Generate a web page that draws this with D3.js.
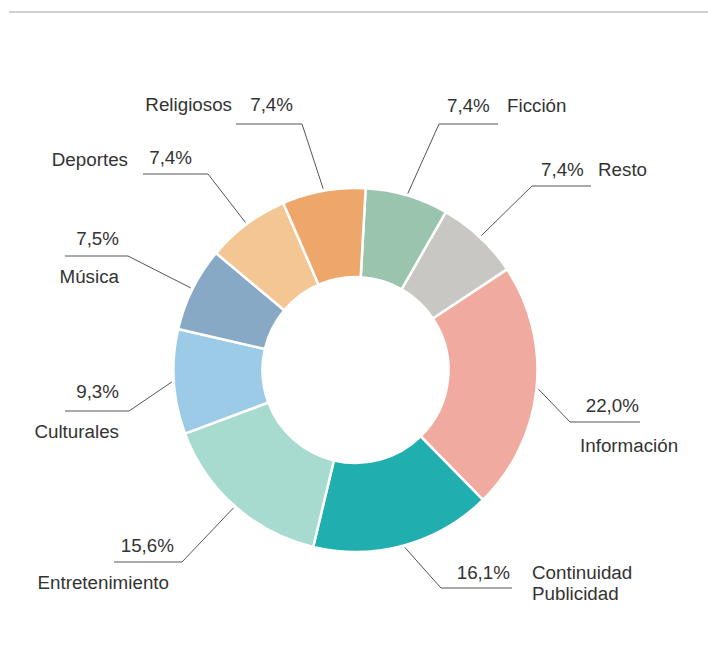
<!DOCTYPE html>
<html>
<head>
<meta charset="utf-8">
<script src="https://cdn.jsdelivr.net/npm/d3@7"></script>
<style>
  html, body { margin: 0; padding: 0; background: #fff; }
  svg { display: block; }
  text { font-family: "Liberation Sans", Arial, Helvetica, sans-serif; fill: #333; }
</style>
</head>
<body>
<svg id="chart" width="708" height="660"></svg>
<script>
// Share by programme type (%), clockwise from the top
const categories = ["Ficción", "Resto", "Información", "Continuidad Publicidad",
  "Entretenimiento", "Culturales", "Música", "Deportes", "Religiosos"];
const shares = [7.4, 7.4, 22.0, 16.1, 15.6, 9.3, 7.5, 7.4, 7.4];
const valueLabels = ["7,4%", "7,4%", "22,0%", "16,1%", "15,6%", "9,3%", "7,5%", "7,4%", "7,4%"];
const colors = ["#9bc4af", "#c8c7c3", "#f0aa9f", "#20aeae", "#a7dbcf",
  "#9bcbe6", "#87a9c6", "#f3c693", "#eda76b"];

// Leader-line elbows and label placement
const labelLayout = [
  { elbow: [439, 124], end: 498, value: { x: 447, y: 112, anchor: "start" }, name: [{ x: 507, y: 112, anchor: "start" }] },
  { elbow: [532, 186], end: 591, value: { x: 541, y: 176, anchor: "start" }, name: [{ x: 598, y: 176, anchor: "start" }] },
  { elbow: [570, 422], end: 640, value: { x: 639, y: 412, anchor: "end" }, name: [{ x: 580, y: 452, anchor: "start" }] },
  { elbow: [441, 588], end: 512, value: { x: 510, y: 579, anchor: "end" }, name: [{ x: 532, y: 579, anchor: "start" }, { x: 532, y: 600, anchor: "start" }] },
  { elbow: [182, 562], end: 114, value: { x: 174, y: 552, anchor: "end" }, name: [{ x: 169, y: 589, anchor: "end" }] },
  { elbow: [129, 411], end: 65, value: { x: 119, y: 398, anchor: "end" }, name: [{ x: 119, y: 438, anchor: "end" }] },
  { elbow: [128, 256], end: 65, value: { x: 119, y: 245, anchor: "end" }, name: [{ x: 119, y: 283, anchor: "end" }] },
  { elbow: [208, 174], end: 143, value: { x: 192, y: 164, anchor: "end" }, name: [{ x: 128, y: 166, anchor: "end" }] },
  { elbow: [302, 124], end: 236, value: { x: 293, y: 111, anchor: "end" }, name: [{ x: 232, y: 111, anchor: "end" }] }
];

const svg = d3.select("#chart");
const cx = 355.5, cy = 370, outerR = 182, innerR = 93;

// Top rule
svg.append("line")
  .attr("x1", 9).attr("x2", 708).attr("y1", 12).attr("y2", 12)
  .attr("stroke", "#c0c0c0").attr("stroke-width", 1.6);

const startAngle = 3.2 * Math.PI / 180;
const pie = d3.pie().sort(null).value(d => d)
  .startAngle(startAngle).endAngle(startAngle + 2 * Math.PI);
const arcs = pie(shares);

const arc = d3.arc().innerRadius(innerR).outerRadius(outerR);
const g = svg.append("g").attr("transform", `translate(${cx},${cy})`);

g.selectAll("path.slice")
  .data(arcs)
  .join("path")
  .attr("class", "slice")
  .attr("d", arc)
  .attr("fill", (d, i) => colors[i])
  .attr("stroke", "#fff")
  .attr("stroke-width", 2.5)
  .attr("stroke-linejoin", "miter");

// Leader lines: from the slice's outer edge at its mid angle, to the elbow, then horizontal
const leaderR = outerR + 2;
svg.append("g").selectAll("polyline")
  .data(arcs)
  .join("polyline")
  .attr("fill", "none")
  .attr("stroke", "#555")
  .attr("stroke-width", 1)
  .attr("points", (d, i) => {
    const a = (d.startAngle + d.endAngle) / 2;
    const x0 = cx + leaderR * Math.sin(a);
    const y0 = cy - leaderR * Math.cos(a);
    const L = labelLayout[i];
    return [[x0, y0], L.elbow, [L.end, L.elbow[1]]].map(p => p.join(",")).join(" ");
  });

// Labels
const labels = svg.append("g").style("font-size", "18.8px");
arcs.forEach((d, i) => {
  const L = labelLayout[i];
  labels.append("text")
    .attr("x", L.value.x).attr("y", L.value.y)
    .attr("text-anchor", L.value.anchor)
    .text(valueLabels[i]);
  const parts = categories[i] === "Continuidad Publicidad" ? ["Continuidad", "Publicidad"] : [categories[i]];
  parts.forEach((t, k) => {
    const p = L.name[k];
    labels.append("text")
      .attr("x", p.x).attr("y", p.y)
      .attr("text-anchor", p.anchor)
      .text(t);
  });
});
</script>
</body>
</html>
